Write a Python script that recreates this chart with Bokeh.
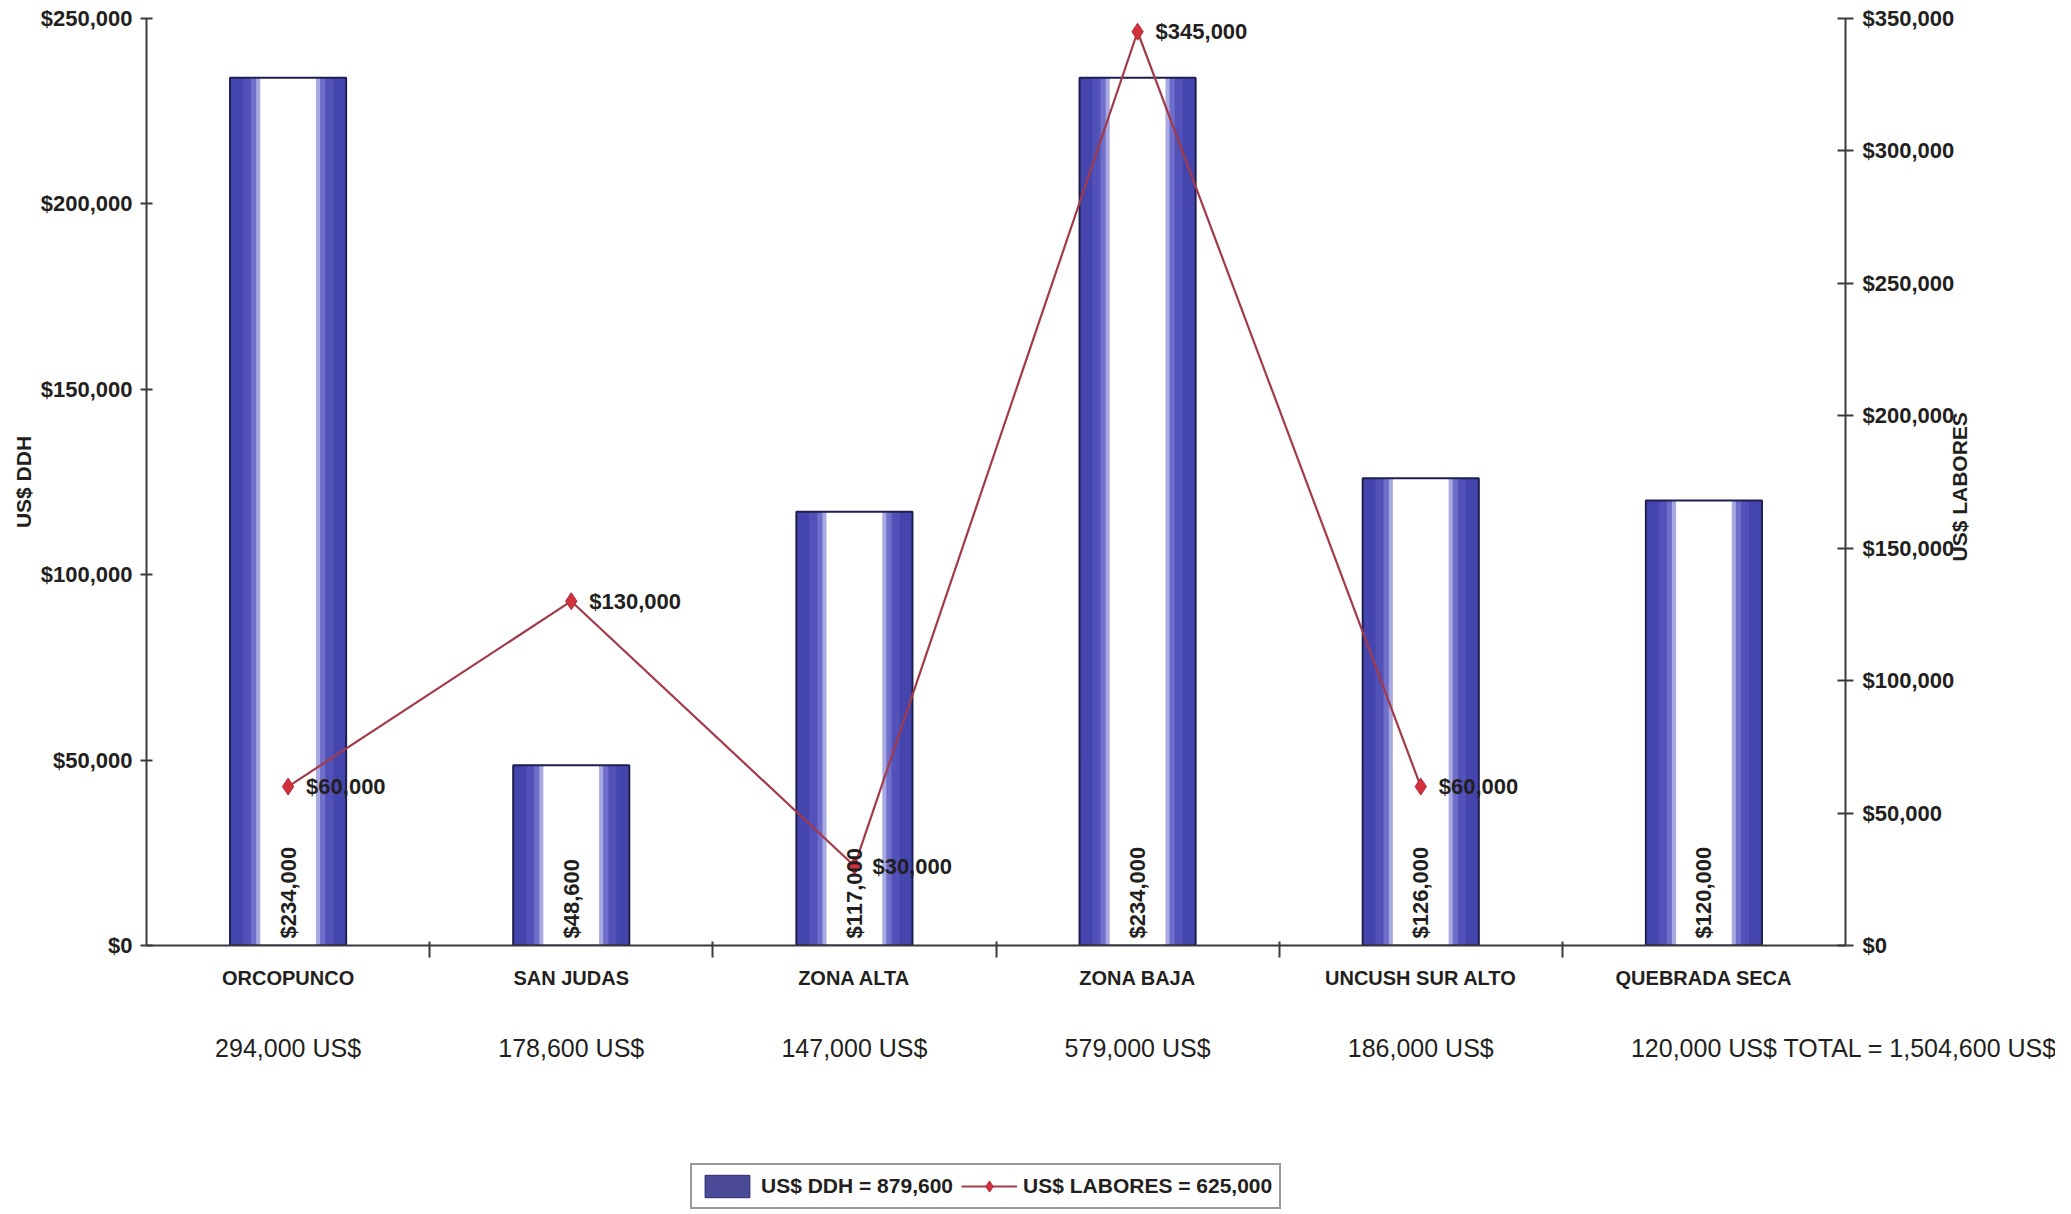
import math
from bokeh.plotting import figure
from bokeh.models import (Range1d, LinearAxis, FixedTicker, NumeralTickFormatter,
                          LabelSet, ColumnDataSource, Legend, LegendItem)
from bokeh.core.properties import value
from bokeh.embed import file_html
from bokeh.resources import INLINE

# ---------------- data ----------------
categories = ["ORCOPUNCO", "SAN JUDAS", "ZONA ALTA", "ZONA BAJA",
              "UNCUSH SUR ALTO", "QUEBRADA SECA"]
ddh = [234000, 48600, 117000, 234000, 126000, 120000]          # US$ DDH (left axis)
labores = [60000, 130000, 30000, 345000, 60000]               # US$ LABORES (right axis); none for last
ddh_ticks = [0, 50000, 100000, 150000, 200000, 250000]
labores_ticks = [0, 50000, 100000, 150000, 200000, 250000, 300000, 350000]

FONT = "Liberation Sans"
TXT = "#231f20"
BAR_EDGE = "#4545ae"
LINE_COL = "#a33a4a"
MARK_COL = "#d2303c"

n = len(categories)
xs = [i + 0.5 for i in range(n)]
lab_full = labores + [0] * (n - len(labores))
totals = [d + l for d, l in zip(ddh, lab_full)]
grand_total = sum(totals)

# ---------------- layout constants ----------------
W = 2055
LEFT, RIGHT, TOP = 146, 210, 18
FRAME_W = W - LEFT - RIGHT
FRAME_H = 927
H1 = 1000
H2 = 210
TITLE_R_START = 561       # screen y (px from top) where the right-hand title begins

p = figure(width=W, height=H1, x_range=Range1d(0, n), y_range=Range1d(0, ddh_ticks[-1]),
           output_backend="svg", toolbar_location=None,
           min_border_left=LEFT, min_border_right=RIGHT, min_border_top=TOP,
           min_border_bottom=H1 - TOP - FRAME_H)
p.extra_y_ranges = {"lab": Range1d(0, labores_ticks[-1])}
p.outline_line_color = None
p.xgrid.visible = False
p.ygrid.visible = False


def style_axis(ax):
    ax.axis_line_color = "#3a3a3a"
    ax.axis_line_width = 2
    ax.major_tick_line_color = "#3a3a3a"
    ax.major_tick_line_width = 2
    ax.minor_tick_line_color = "#3a3a3a"
    ax.minor_tick_line_width = 2
    ax.major_label_text_font = FONT
    ax.major_label_text_font_style = "bold"
    ax.major_label_text_font_size = "22px"
    ax.major_label_text_color = TXT
    ax.axis_label_text_font = FONT
    ax.axis_label_text_font_style = "bold"
    ax.axis_label_text_font_size = "21px"
    ax.axis_label_text_color = TXT


yl = p.yaxis[0]
style_axis(yl)
yl.ticker = FixedTicker(ticks=ddh_ticks)
yl.formatter = NumeralTickFormatter(format="$0,0")
yl.major_tick_in = 6
yl.major_tick_out = 6
yl.minor_tick_in = 0
yl.minor_tick_out = 0
yl.major_label_standoff = 8
yl.axis_label = "US$ DDH"
yl.axis_label_standoff = 3

yr = LinearAxis(y_range_name="lab", ticker=FixedTicker(ticks=labores_ticks),
                formatter=NumeralTickFormatter(format="$0,0"))
style_axis(yr)
yr.major_tick_in = 8
yr.major_tick_out = 8
yr.minor_tick_in = 0
yr.minor_tick_out = 0
yr.major_label_standoff = 9
p.add_layout(yr, "right")

# title axis for "US$ LABORES": one rotated label, reading bottom-to-top like the left title
frame_bottom = TOP + FRAME_H
title_val = int(round((frame_bottom - TITLE_R_START) / FRAME_H * labores_ticks[-1]))
yt = LinearAxis(y_range_name="lab", ticker=FixedTicker(ticks=[title_val]))
style_axis(yt)
yt.axis_line_color = None
yt.major_tick_in = 0
yt.major_tick_out = 0
yt.minor_tick_in = 0
yt.minor_tick_out = 0
yt.major_label_overrides = {title_val: "US$ LABORES"}
yt.major_label_orientation = math.pi / 2
yt.major_label_text_font_size = "21px"
yt.major_label_standoff = 2
p.add_layout(yt, "right")

xa = p.xaxis[0]
style_axis(xa)
xa.ticker = FixedTicker(ticks=xs, minor_ticks=[i for i in range(1, n)])
xa.major_label_overrides = {x: c for x, c in zip(xs, categories)}
xa.major_tick_in = 0
xa.major_tick_out = 0
xa.minor_tick_in = 4
xa.minor_tick_out = 12
xa.major_label_text_font_size = "20px"
xa.major_label_standoff = 9

# ---------- bars (layered to imitate the cylinder-like gradient) ----------
src = ColumnDataSource(dict(x=xs, top=ddh, lbl=[f"${v:,}" for v in ddh]))
BW = 0.41
layers = [(1.00, BAR_EDGE), (0.78, "#5151b8"), (0.64, "#6f6fcb"), (0.55, "#a9a9e1"), (0.48, "#ffffff")]
for frac, col in layers:
    p.vbar(x="x", top="top", width=BW * frac, bottom=0, source=src,
           fill_color=col, line_color=None)
p.vbar(x="x", top="top", width=BW, bottom=0, source=src,
       fill_alpha=0, line_color="#1e1e50", line_width=2)

p.add_layout(LabelSet(x="x", y=0, text="lbl", source=src, angle=math.pi / 2,
                      text_align="left", text_baseline="middle", y_offset=7,
                      text_font=value(FONT), text_font_style="bold", text_font_size="22px",
                      text_color=TXT))

# ---------- line (right axis) ----------
lsrc = ColumnDataSource(dict(x=xs[:len(labores)], y=labores,
                             lbl=[f"${v:,}" for v in labores]))
p.line(x="x", y="y", source=lsrc, y_range_name="lab", line_color=LINE_COL, line_width=2.2)
p.scatter(x="x", y="y", source=lsrc, y_range_name="lab", marker="diamond",
          size=17, fill_color=MARK_COL, line_color="#b02a38")
p.add_layout(LabelSet(x="x", y="y", text="lbl", source=lsrc, y_range_name="lab",
                      x_offset=18, text_align="left", text_baseline="middle",
                      text_font=value(FONT), text_font_style="bold", text_font_size="22px",
                      text_color=TXT))

# ---------------- bottom strip: totals row and legend ----------------
ppu = FRAME_W / n
b = figure(width=W, height=H2, x_range=Range1d(-LEFT / ppu, n + RIGHT / ppu),
           y_range=Range1d(0, H2), output_backend="svg", toolbar_location=None,
           x_axis_location=None, y_axis_location=None,
           min_border_left=0, min_border_right=0, min_border_top=0, min_border_bottom=0)
b.outline_line_color = None
b.xgrid.visible = False
b.ygrid.visible = False

row_y = H2 - 47
b.text(x=xs, y=[row_y] * n, text=[f"{t:,} US$" for t in totals],
       text_align="center", text_baseline="middle",
       text_font=value(FONT), text_font_size="25px", text_color=TXT)
b.text(x=[n], y=[row_y], text=[f"TOTAL = {grand_total:,} US$"], x_offset=-62,
       text_align="left", text_baseline="middle",
       text_font=value(FONT), text_font_size="25px", text_color=TXT)

# legend proxies (a single NaN point each: nothing drawn, they only carry the styles)
nan = float("nan")
leg_bar = b.vbar(x=[nan], top=[nan], width=BW, fill_color="#4a4a96", line_color="#2a2a70")
leg_line = b.line(x=[nan], y=[nan], line_color=LINE_COL, line_width=2.2)
leg_mark = b.scatter(x=[nan], y=[nan], marker="diamond", size=17,
                     fill_color=MARK_COL, line_color="#b02a38")

legend = Legend(items=[
    LegendItem(label=f"US$ DDH = {sum(ddh):,}", renderers=[leg_bar]),
    LegendItem(label=f"US$ LABORES = {sum(labores):,}", renderers=[leg_line, leg_mark]),
], orientation="horizontal", location=(690, 1))
legend.label_text_font = FONT
legend.label_text_font_style = "bold"
legend.label_text_font_size = "21px"
legend.label_text_color = TXT
legend.glyph_width = 56
legend.glyph_height = 28
legend.spacing = 8
legend.padding = 7
legend.margin = 0
legend.label_standoff = 6
legend.border_line_color = "#333333"
legend.border_line_width = 2
legend.background_fill_color = "white"
legend.background_fill_alpha = 1
b.add_layout(legend)

open("out.html", "w").write(file_html([p, b], INLINE))
